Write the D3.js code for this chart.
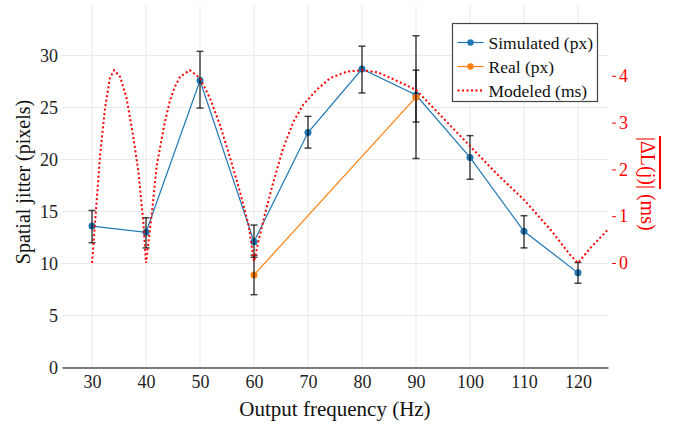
<!DOCTYPE html>
<html>
<head>
  <meta charset="utf-8">
  <title>jitter</title>
  <style>
    body { margin: 0; background: #fff; }
    text { font-family: "Liberation Serif", "DejaVu Serif", serif; }
  </style>
</head>
<body>
  <script src="https://d3js.org/d3.v7.min.js"></script>

  <script>

      var freqs = [30, 40, 50, 60, 70, 80, 90, 100, 110, 120];
      var simulated = [13.6, 13.0, 27.6, 12.1, 22.6, 28.7, 26.2, 20.2, 13.1, 9.1];
      var simLow = [12.0, 11.5, 24.95, 10.6, 21.1, 26.4, 23.6, 18.1, 11.5, 8.1];
      var simHigh = [15.1, 14.4, 30.4, 13.7, 24.15, 30.9, 28.6, 22.3, 14.6, 10.1];

      var realFreqs = [60, 90];
      var real = [8.9, 26.0];
      var realLow = [7.0, 20.1];
      var realHigh = [10.8, 31.9];

      // modeled |dL(j)| in ms
      var modelFreqs = [30, 30.9, 31.5, 32.4, 33.3, 34.1, 35.2, 36.4, 37.6, 38.6, 39.5, 40,
                        41.05, 42, 43.5, 44.4, 45.2, 46.3, 48.1, 50, 51.85, 53.7, 55.6, 57.4, 59, 60,
                        60.8, 62, 63.6, 65.4, 67.3, 69.1, 71.6, 74.1, 77.2, 80.2, 83, 85,
                        90, 95, 100, 105, 110, 115, 118.5, 120, 122.2, 125.6];
      var modelMs = [0, 1.38, 2.31, 3.3, 3.95, 4.12, 3.98, 3.52, 2.73, 1.95, 0.88, 0,
                     1.03, 2.09, 3.02, 3.45, 3.73, 3.98, 4.12, 3.95, 3.52, 2.95, 2.24, 1.52, 0.81, 0.03,
                     0.46, 1.03, 1.74, 2.45, 3.02, 3.38, 3.70, 3.95, 4.09, 4.12, 4.07, 3.97,
                     3.7, 3.1, 2.5, 1.9, 1.35, 0.7, 0.18, 0, 0.31, 0.72];

      var xTicks = [30, 40, 50, 60, 70, 80, 90, 100, 110, 120];
      var yTicks = [0, 5, 10, 15, 20, 25, 30];
      var y2Ticks = [0, 1, 2, 3, 4];

      var w = 678;
      var h = 424;
      var pL = 62, pR = 608, pT = 5, pB = 367.5;

      var svg = d3.select("body").append("svg").attr("width", w).attr("height", h);

      var x = d3.scaleLinear().domain([24.44, 125.56]).range([pL, pR]);
      var y = d3.scaleLinear().domain([0, 34.86]).range([pB, pT]);
      var y2 = d3.scaleLinear().domain([-2.233, 5.513]).range([pB, pT]);

      // grid
      svg.append("g").selectAll("line").data(xTicks).enter().append("line")
        .attr("x1", function(d){ return x(d); }).attr("x2", function(d){ return x(d); })
        .attr("y1", pT).attr("y2", pB)
        .attr("stroke", "#ebebeb").attr("stroke-width", 1);
      svg.append("g").selectAll("line").data(yTicks).enter().append("line")
        .attr("x1", pL).attr("x2", pR)
        .attr("y1", function(d){ return y(d); }).attr("y2", function(d){ return y(d); })
        .attr("stroke", "#ebebeb").attr("stroke-width", 1);

      // x axis
      var xAxis = svg.append("g").attr("transform", "translate(0," + pB + ")")
        .call(d3.axisBottom(x).tickValues(xTicks).tickSize(0).tickPadding(8));
      xAxis.select(".domain").attr("stroke", "#555").attr("stroke-width", 1.3);
      xAxis.selectAll("text").attr("font-size", 18).attr("fill", "#222")
        .style("font-family", "Liberation Serif");

      // left axis
      var yAxis = svg.append("g").attr("transform", "translate(" + pL + ",0)")
        .call(d3.axisLeft(y).tickValues(yTicks).tickSize(0).tickPadding(4));
      yAxis.select(".domain").remove();
      yAxis.selectAll("text").attr("font-size", 18).attr("fill", "#222")
        .style("font-family", "Liberation Serif");

      // right axis
      var y2Axis = svg.append("g").attr("transform", "translate(" + (pR + 4) + ",0)")
        .call(d3.axisRight(y2).tickValues(y2Ticks).tickSize(4).tickPadding(3));
      y2Axis.select(".domain").remove();
      y2Axis.selectAll("line").attr("stroke", "#ff0000");
      y2Axis.selectAll("text").attr("font-size", 18).attr("fill", "#ff0000")
        .style("font-family", "Liberation Serif");

      // titles
      svg.append("text").attr("x", 335).attr("y", 416)
        .attr("text-anchor", "middle").attr("font-size", 21).attr("fill", "#111")
        .text("Output frequency (Hz)");
      svg.append("text").attr("transform", "translate(30," + 182 + ") rotate(-90)")
        .attr("text-anchor", "middle").attr("font-size", 20).attr("fill", "#111")
        .text("Spatial jitter (pixels)");

      var rLab = svg.append("g").attr("transform", "translate(641,137) rotate(90)");
      var rText = rLab.append("text").attr("x", 0).attr("y", 0)
        .attr("font-size", 20).attr("fill", "#ff0000")
        .text("|\u0394L(j)| (ms)");
      var barLen = rText.node().getSubStringLength(0, 7);
      rLab.append("line").attr("x1", -1).attr("x2", barLen)
        .attr("y1", -19).attr("y2", -19)
        .attr("stroke", "#ff0000").attr("stroke-width", 2);

      // error bars
      function errorBars(fs, lo, hi) {
        var g = svg.append("g").attr("stroke", "#000").attr("stroke-opacity", 0.72)
          .attr("stroke-width", 1.5);
        fs.forEach(function(f, i){
          g.append("line").attr("x1", x(f)).attr("x2", x(f)).attr("y1", y(lo[i])).attr("y2", y(hi[i]));
          g.append("line").attr("x1", x(f) - 3.5).attr("x2", x(f) + 3.5).attr("y1", y(lo[i])).attr("y2", y(lo[i]));
          g.append("line").attr("x1", x(f) - 3.5).attr("x2", x(f) + 3.5).attr("y1", y(hi[i])).attr("y2", y(hi[i]));
        });
      }

      function series(fs, vals, color) {
        var line = d3.line().x(function(d, i){ return x(fs[i]); }).y(function(d){ return y(d); });
        svg.append("path").datum(vals).attr("d", line)
          .attr("fill", "none").attr("stroke", color).attr("stroke-width", 1.2);
        svg.append("g").selectAll("circle").data(vals).enter().append("circle")
          .attr("cx", function(d, i){ return x(fs[i]); })
          .attr("cy", function(d){ return y(d); })
          .attr("r", 3.5).attr("fill", color);
      }

      series(freqs, simulated, "#1f77b4");
      errorBars(freqs, simLow, simHigh);
      series(realFreqs, real, "#ff7f0e");
      errorBars(realFreqs, realLow, realHigh);

      var mLine = d3.line().x(function(d, i){ return x(modelFreqs[i]); }).y(function(d){ return y2(d); });
      svg.append("path").datum(modelMs).attr("d", mLine)
        .attr("fill", "none").attr("stroke", "#ff0000").attr("stroke-width", 2)
        .attr("stroke-dasharray", "2,2.5");

      // legend
      var lg = svg.append("g").attr("transform", "translate(452.5,23.5)");
      lg.append("rect").attr("width", 145).attr("height", 78)
        .attr("fill", "#fff").attr("stroke", "#444").attr("stroke-width", 1.2);
      var items = [
        { name: "Simulated (px)", color: "#1f77b4", dot: true, dash: null },
        { name: "Real (px)", color: "#ff7f0e", dot: true, dash: null },
        { name: "Modeled (ms)", color: "#ff0000", dot: false, dash: "2,2.5" }
      ];
      items.forEach(function(it, i){
        var cy = 19 + i * 24;
        lg.append("line").attr("x1", 5).attr("x2", 31).attr("y1", cy).attr("y2", cy)
          .attr("stroke", it.color).attr("stroke-width", it.dash ? 2 : 1.2)
          .attr("stroke-dasharray", it.dash);
        if (it.dot) lg.append("circle").attr("cx", 18).attr("cy", cy).attr("r", 3.2).attr("fill", it.color);
        lg.append("text").attr("x", 36).attr("y", cy + 6).attr("font-size", 17.5).attr("fill", "#111")
          .text(it.name);
      });

  </script>
</body>
</html>
